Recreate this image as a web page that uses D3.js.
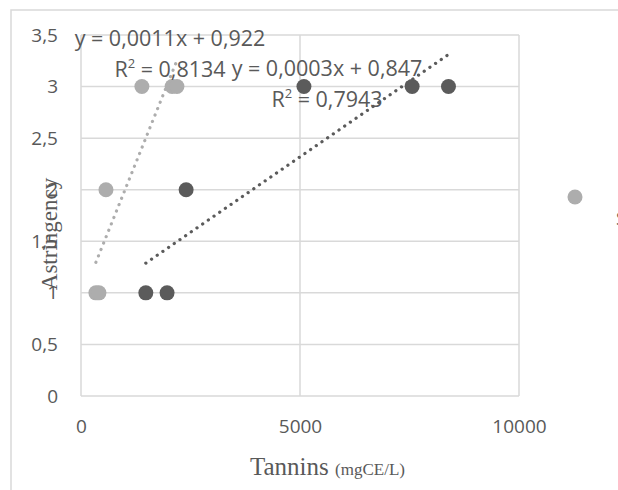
<!DOCTYPE html>
<html>
<head>
<meta charset="utf-8">
<script src="https://cdn.jsdelivr.net/npm/d3@7"></script>
<style>
body { margin: 0; background: #fff; }
text { font-family: "Open Sans", "Noto Sans", sans-serif; fill: #595959; }
</style>
</head>
<body>
<script>
// data
var lightX = [340, 410, 570, 1390, 2080, 2190];
var lightY = [1, 1, 2, 3, 3, 3];
var darkX = [1480, 1965, 2400, 5090, 7560, 8390];
var darkY = [1, 1, 2, 3, 3, 3];
var xTicks = [0, 5000, 10000];
var yTicks = [0, 0.5, 1, 1.5, 2, 2.5, 3, 3.5];
var lightEq = ["y = 0,0011x + 0,922", "0,8134"];
var darkEq = ["y = 0,0003x + 0,847", "0,7943"];

var width = 618;
var height = 490;
var light = "#ADADAD";
var dark = "#5B5B5B";
var grid = "#D9D9D9";

var svg = d3.select("body")
			.append("svg")
			.attr("width", width)
			.attr("height", height);

// chart border (runs off the page on the right and bottom)
svg.append("rect")
	.attr("x", 11).attr("y", 10)
	.attr("width", 800).attr("height", 600)
	.attr("fill", "none")
	.attr("stroke", grid)
	.attr("stroke-width", 1.5);

var x = d3.scaleLinear().domain([0, 10000]).range([81, 519]);
var y = d3.scaleLinear().domain([0, 3.5]).range([396, 35]);

var fmt = function(d){ return String(d).replace(".", ","); };

// gridlines
svg.append("g").selectAll("line")
	.data(yTicks)
	.enter().append("line")
		.attr("x1", x(0)).attr("x2", x(10000))
		.attr("y1", function(d){return y(d)})
		.attr("y2", function(d){return y(d)})
		.attr("stroke", grid).attr("stroke-width", 1.5);

svg.append("g").selectAll("line")
	.data(xTicks)
	.enter().append("line")
		.attr("y1", y(0)).attr("y2", y(3.5))
		.attr("x1", function(d){return x(d)})
		.attr("x2", function(d){return x(d)})
		.attr("stroke", grid).attr("stroke-width", 1.5);

// axes (labels only)
var yAxis = d3.axisLeft(y).tickValues(yTicks).tickFormat(fmt).tickSize(0).tickPadding(0);
var xAxis = d3.axisBottom(x).tickValues(xTicks).tickFormat(fmt).tickSize(0).tickPadding(0);

var ya = svg.append("g").attr("transform", "translate(58,0)").call(yAxis);
var xa = svg.append("g").attr("transform", "translate(0,419)").call(xAxis);
[ya, xa].forEach(function(a){
	a.select(".domain").remove();
	a.selectAll("text")
		.attr("fill", "#595959")
		.style("font-size", "19px")
		.style("font-family", "\"Open Sans\", \"Noto Sans\", sans-serif");
});
xa.selectAll("text").attr("dy", "0.71em");

// axis titles
svg.append("text")
	.attr("x", 250).attr("y", 475)
	.style("font-family", "\"Liberation Serif\", serif")
	.style("font-size", "25px")
	.text("Tannins ")
	.append("tspan")
	.style("font-size", "17px")
	.text("(mgCE/L)");

svg.append("text")
	.attr("transform", "translate(57,234) rotate(-90)")
	.attr("text-anchor", "middle")
	.style("font-family", "\"Liberation Serif\", serif")
	.style("font-size", "23px")
	.text("Astringency");

// least squares fit for the trendlines
function fit(xs, ys){
	var mx = d3.mean(xs), my = d3.mean(ys);
	var sxy = d3.sum(xs, function(v, i){return (v - mx) * (ys[i] - my)});
	var sxx = d3.sum(xs, function(v){return (v - mx) * (v - mx)});
	var b = sxy / sxx;
	var a = my - b * mx;
	var lo = d3.min(xs), hi = d3.max(xs);
	return [[lo, a + b * lo], [hi, a + b * hi]];
}

var line = d3.line()
	.x(function(d){return x(d[0])})
	.y(function(d){return y(d[1])});

function drawSeries(xs, ys, color){
	svg.append("g").selectAll("circle")
		.data(xs)
		.enter().append("circle")
			.attr("cx", function(d){return x(d)})
			.attr("cy", function(d, i){return y(ys[i])})
			.attr("r", 7.5)
			.attr("fill", color);
}

function drawTrend(xs, ys, color){
	svg.append("path")
		.attr("d", line(fit(xs, ys)))
		.attr("fill", "none")
		.attr("stroke", color)
		.attr("stroke-width", 3.2)
		.attr("stroke-linecap", "round")
		.attr("stroke-dasharray", "0.1 6.8");
}

drawSeries(lightX, lightY, light);
drawSeries(darkX, darkY, dark);
drawTrend(lightX, lightY, light);
drawTrend(darkX, darkY, dark);

// trendline equations, two centred lines each
function eqLabel(eq, cx, y1){
	var g = svg.append("g")
		.style("font-size", "21.5px")
		.attr("text-anchor", "middle");
	g.append("text").attr("x", cx).attr("y", y1).text(eq[0]);
	var t = g.append("text").attr("x", cx).attr("y", y1 + 31);
	t.append("tspan").text("R");
	t.append("tspan").attr("dy", -9).style("font-size", "13px").text("2");
	t.append("tspan").attr("dy", 9).text(" = " + eq[1]);
}
eqLabel(lightEq, 170, 46);
eqLabel(darkEq, 327, 76);

// legend, clipped by the page edge
svg.append("circle")
	.attr("cx", 575).attr("cy", 197).attr("r", 7.5)
	.attr("fill", light);
svg.append("text")
	.attr("x", 616).attr("y", 225)
	.style("font-size", "19px")
	.text("Série1");
</script>
</body>
</html>
